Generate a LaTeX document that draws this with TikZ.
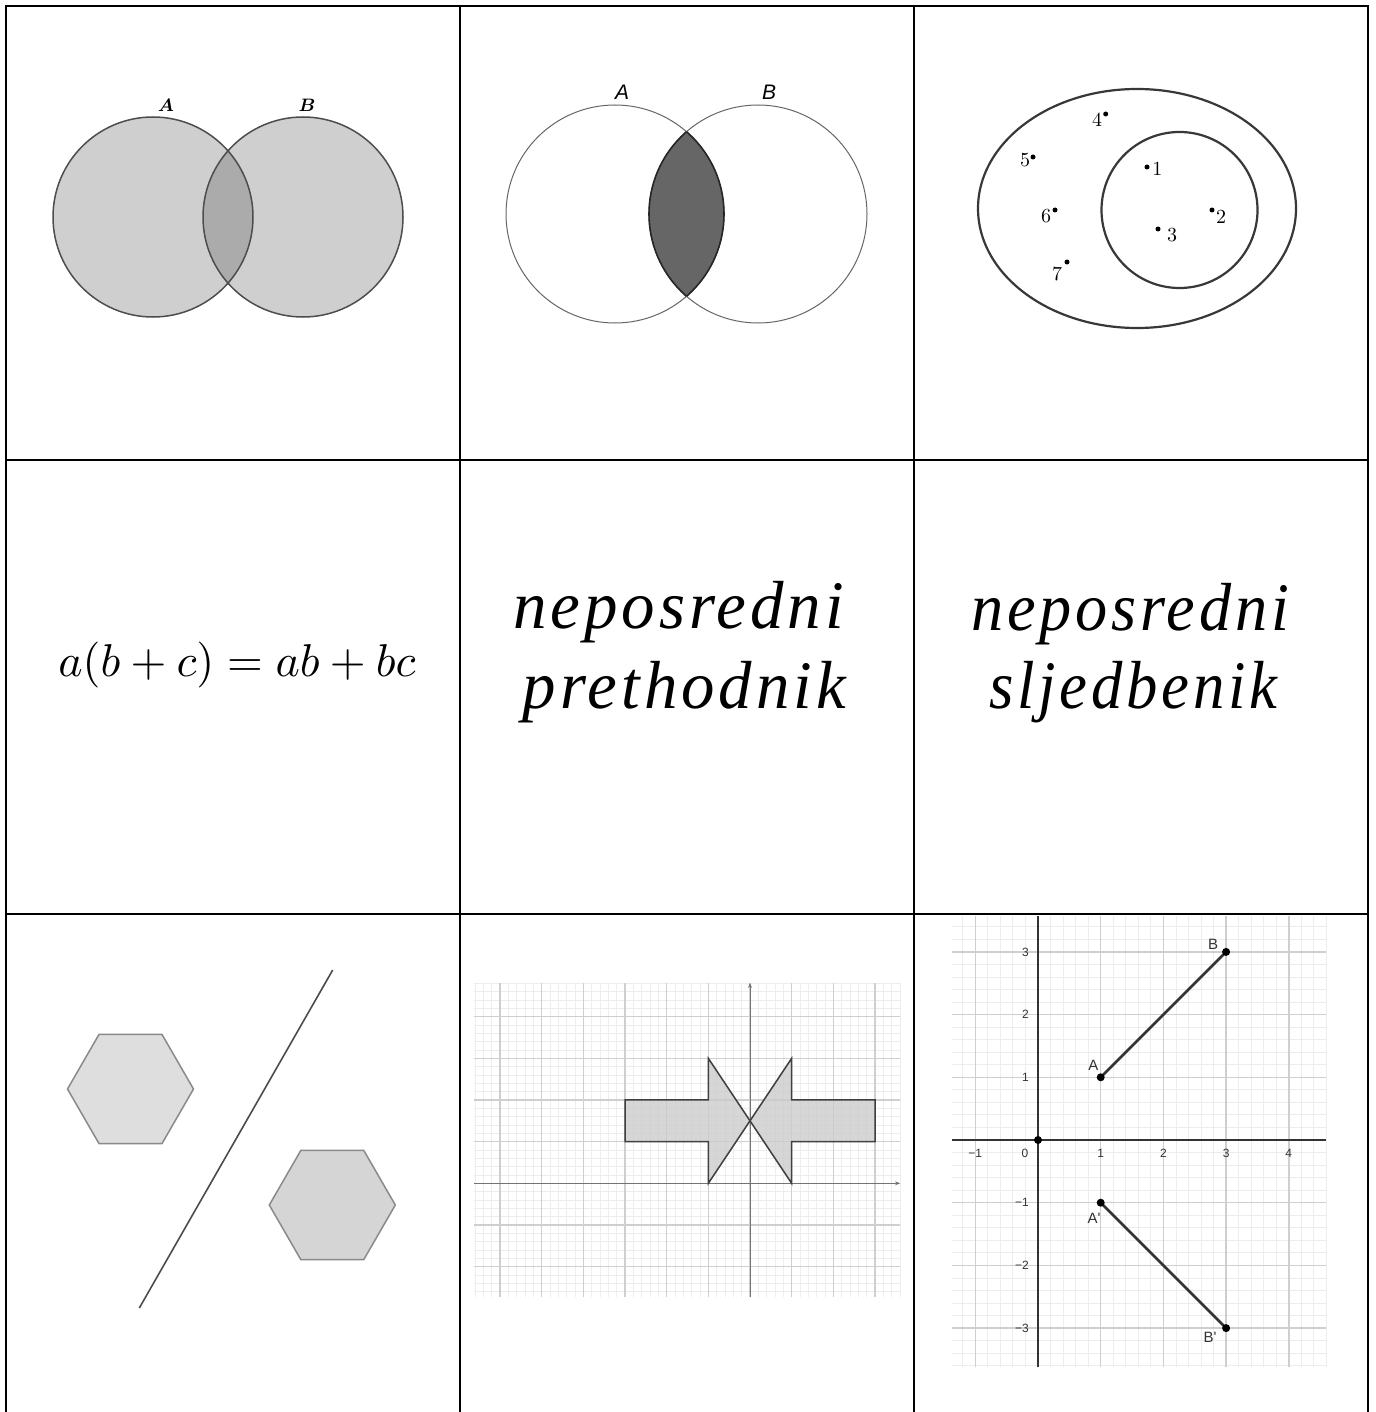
\documentclass[tikz,border=0pt]{standalone}
\usepackage{fontspec}
\usepackage{bm}
\usepackage{graphicx}
\usetikzlibrary{arrows.meta,shapes.geometric}
\newfontfamily\arialfont{Liberation Sans}
\newfontfamily\wordfont[LetterSpace=6]{Liberation Serif}
\definecolor{vennfill}{HTML}{CFCFCF}
\definecolor{vennover}{HTML}{ABABAB}
\definecolor{vennedge}{HTML}{4D4D4D}
\definecolor{lensfill}{HTML}{666666}
\definecolor{hexfillA}{HTML}{DEDEDE}
\definecolor{hexfillB}{HTML}{D5D5D5}
\definecolor{hexedge}{HTML}{8A8A8A}
\definecolor{gridmin}{HTML}{EDEDED}
\definecolor{gridmaj}{HTML}{CFCFCF}
\definecolor{ticktxt}{HTML}{333333}
\newcommand{\wordbox}[2]{\resizebox{#1}{\height}{#2}}
\begin{document}
\begin{tikzpicture}[x=0.5pt,y=-0.5pt,
  tableline/.style={line width=1.2pt,black},
  vennedgeA/.style={draw=vennedge,line width=0.75pt},
  venncirc/.style={draw=black!60,line width=0.5pt},
  lensedge/.style={draw=black!85,line width=0.8pt},
  setedge/.style={draw=black!78,line width=1.1pt},
  dotlbl/.style={inner sep=0pt,font=\fontsize{10}{12}\selectfont},
  hexA/.style={regular polygon,regular polygon sides=6,minimum size=63pt,inner sep=0pt,draw=hexedge,fill=hexfillA,line width=0.75pt},
  hexB/.style={regular polygon,regular polygon sides=6,minimum size=63pt,inner sep=0pt,draw=hexedge,fill=hexfillB,line width=0.75pt},
  bigtxt/.style={inner sep=0pt,anchor=base,font=\wordfont\itshape\fontsize{34}{40}\selectfont},
  ticklbl/.style={inner sep=0pt,text=ticktxt,font=\arialfont\fontsize{6}{7}\selectfont},
  ptlbl/.style={inner sep=0pt,text=ticktxt,font=\arialfont\fontsize{7.5}{9}\selectfont},
  seg/.style={draw=black!80,line width=1.35pt}
]
\useasboundingbox (0,0) rectangle (1375,1412);
\fill[white] (0,0) rectangle (1375,1412);

% ---------- cell 1: union Venn ----------
\coordinate (ca) at (153,217);
\coordinate (cb) at (303,217);
\fill[vennfill] (ca) circle[radius=50pt];
\fill[vennfill] (cb) circle[radius=50pt];
\begin{scope}
  \clip (ca) circle[radius=50pt];
  \fill[vennover] (cb) circle[radius=50pt];
\end{scope}
\draw[vennedgeA] (ca) circle[radius=50pt];
\draw[vennedgeA] (cb) circle[radius=50pt];
\node[inner sep=0pt,font=\fontsize{9.5}{11}\selectfont] (la1) at (166,105) {$\bm{A}$};
\node[inner sep=0pt,font=\fontsize{9.5}{11}\selectfont] (lb1) at (307,105) {$\bm{B}$};

% ---------- cell 2: intersection Venn ----------
\coordinate (c2a) at (615,214);
\coordinate (c2b) at (758,214);
\draw[venncirc] (c2a) circle[radius=54.5pt];
\draw[venncirc] (c2b) circle[radius=54.5pt];
\begin{scope}
  \clip (c2a) circle[radius=54.5pt];
  \fill[lensfill] (c2b) circle[radius=54.5pt];
  \draw[lensedge] (c2b) circle[radius=54.5pt];
\end{scope}
\begin{scope}
  \clip (c2b) circle[radius=54.5pt];
  \draw[lensedge] (c2a) circle[radius=54.5pt];
\end{scope}
\node[inner sep=0pt,font=\arialfont\itshape\fontsize{10.5}{12}\selectfont] (la2) at (622,92.5) {A};
\node[inner sep=0pt,font=\arialfont\itshape\fontsize{10.5}{12}\selectfont] (lb2) at (769,92.5) {B};

% ---------- cell 3: subset diagram ----------
\coordinate (ce) at (1137,208.5);
\coordinate (ci) at (1179.5,210);
\draw[setedge] (ce) ellipse[x radius=79.5pt,y radius=59.75pt];
\draw[setedge] (ci) circle[radius=39pt];
\foreach \px/\py/\lx/\ly/\t in {1105.7/114/1097.2/119.3/4, 1033/157/1025/160/5, 1147/167/1157.3/169.3/1, 1055/210/1046.2/216.2/6, 1212/210/1221.2/217.2/2, 1158/229/1172/235.5/3, 1067/262/1057.2/273.8/7}{
  \fill (\px,\py) circle[radius=1.25pt];
  \node[dotlbl] (n\t) at (\lx,\ly) {\t};
}

% ---------- cell 4: formula ----------
\node[scale=2.3,anchor=base,inner sep=0pt] (eq) at (237,676.8) {$a(b+c)=ab+bc$};

% ---------- cell 5 and 6: words ----------
\node[bigtxt] (w1) at (678.5,628) {\wordbox{165.5pt}{neposredni}};
\node[bigtxt] (w2) at (684.5,708) {\wordbox{161.5pt}{prethodnik}};
\node[bigtxt] (w3) at (1130.2,630) {\wordbox{159pt}{neposredni}};
\node[bigtxt] (w4) at (1133.5,708) {\wordbox{144pt}{sljedbenik}};

% ---------- cell 7: hexagons and mirror line ----------
\node[hexA] (h1) at (130.5,1089) {};
\node[hexB] (h2) at (332.3,1205) {};
\coordinate (m1) at (332.7,970);
\coordinate (m2) at (139.3,1308);
\draw[draw=black!70,line width=0.8pt] (m1) -- (m2);

% ---------- cell 8: grid with two arrows ----------
\begin{scope}[shift={(750,1183.3)},x=20.835pt,y=20.835pt]
  \foreach \i in {-33,...,18} \draw[gridmin,line width=0.4pt] (\i/5,-2.73) -- (\i/5,4.81);
  \foreach \i in {-13,...,24} \draw[gridmin,line width=0.4pt] (-6.62,\i/5) -- (3.6,\i/5);
  \foreach \i in {-6,...,3} \draw[gridmaj,line width=0.6pt] (\i,-2.73) -- (\i,4.81);
  \foreach \i in {-2,...,4} \draw[gridmaj,line width=0.6pt] (-6.62,\i) -- (3.6,\i);
  \coordinate (xe8) at (3.6,0);
  \coordinate (ye8) at (0,4.81);
  \coordinate (xs8) at (-6.62,0);
  \coordinate (ys8) at (0,-2.73);
  \draw[black!55,line width=0.5pt,-{Stealth[length=2.5pt,width=2pt]}] (xs8) -- (xe8);
  \draw[black!55,line width=0.5pt,-{Stealth[length=2.5pt,width=2pt]}] (ys8) -- (ye8);
  \filldraw[fill=black!20,fill opacity=0.8,draw=black!75,line width=0.75pt]
    (-3,1) -- (-1,1) -- (-1,0) -- (0,1.5) -- (-1,3) -- (-1,2) -- (-3,2) -- cycle;
  \filldraw[fill=black!20,fill opacity=0.8,draw=black!75,line width=0.75pt]
    (3,1) -- (1,1) -- (1,0) -- (0,1.5) -- (1,3) -- (1,2) -- (3,2) -- cycle;
\end{scope}

% ---------- cell 9: segment reflection ----------
\begin{scope}[shift={(1038,1140)},x=31.35pt,y=31.35pt]
  \foreach \i in {-6,...,23} \draw[gridmin,line width=0.45pt] (\i/5,-3.625) -- (\i/5,3.58);
  \foreach \i in {-18,...,17} \draw[gridmin,line width=0.45pt] (-1.367,\i/5) -- (4.6,\i/5);
  \foreach \i in {-1,...,4} \draw[gridmaj,line width=0.7pt] (\i,-3.625) -- (\i,3.58);
  \foreach \i in {-3,...,3} \draw[gridmaj,line width=0.7pt] (-1.367,\i) -- (4.6,\i);
  \coordinate (xs9) at (-1.367,0);
  \coordinate (xe9) at (4.6,0);
  \coordinate (ys9) at (0,-3.625);
  \coordinate (ye9) at (0,3.58);
  \draw[black!80,line width=0.75pt] (xs9) -- (xe9);
  \draw[black!80,line width=0.75pt] (ys9) -- (ye9);
  \foreach \k/\t in {-1/−1,1/1,2/2,3/3,4/4} \node[ticklbl] (tx\k) at (\k,-0.22) {\t};
  \node[ticklbl] (tx0) at (-0.21,-0.22) {0};
  \foreach \k/\t in {-3/−3,-2/−2,-1/−1,1/1,2/2,3/3} \node[ticklbl,anchor=east] (ty\k) at (-0.14,\k) {\t};
  \coordinate (pA) at (1,1);
  \coordinate (pB) at (3,3);
  \coordinate (pA2) at (1,-1);
  \coordinate (pB2) at (3,-3);
  \coordinate (pO) at (0,0);
  \draw[seg] (pA) -- (pB);
  \draw[seg] (pA2) -- (pB2);
  \foreach \p in {pA,pB,pA2,pB2,pO} \fill (\p) circle[radius=2pt];
\end{scope}
\node[ptlbl] (lA) at (1093.3,1065.7) {A};
\node[ptlbl] (lB) at (1213,944.7) {B};
\node[ptlbl] (lA2) at (1094,1218.5) {A\textquotesingle};
\node[ptlbl] (lB2) at (1210,1337.3) {B\textquotesingle};

% ---------- table rules ----------
\draw[tableline] (6,6) -- (1368,6);
\draw[tableline] (6,460) -- (1368,460);
\draw[tableline] (6,914) -- (1368,914);
\draw[tableline] (6,5.4) -- (6,1412);
\draw[tableline] (460,5.4) -- (460,1412);
\draw[tableline] (914,5.4) -- (914,1412);
\draw[tableline] (1368,5.4) -- (1368,1412);
\end{tikzpicture}
\end{document}
